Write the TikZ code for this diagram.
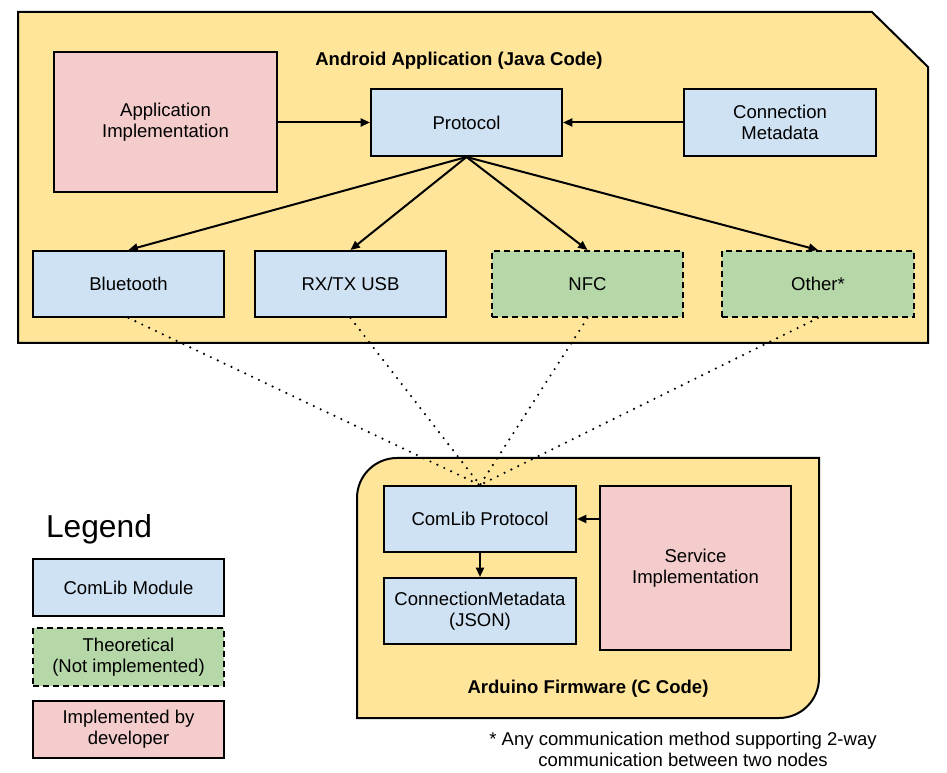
\documentclass[tikz,border=0pt]{standalone}
\usepackage{fontspec}
\setmainfont{Liberation Sans}
\usetikzlibrary{arrows.meta}
\definecolor{bgyellow}{HTML}{FFE599}
\definecolor{modblue}{HTML}{CFE2F3}
\definecolor{theogreen}{HTML}{B6D7A8}
\definecolor{devpink}{HTML}{F4CCCC}
\tikzset{
  box/.style={draw=black, line width=1.5pt, inner sep=0pt, align=center,
    font=\fontsize{13.9}{15.75}\selectfont},
  modbox/.style={box, fill=modblue},
  theobox/.style={box, fill=theogreen, dash pattern=on 4.5pt off 3pt},
  devbox/.style={box, fill=devpink},
  arr/.style={line width=1.5pt, -{Triangle[length=7pt,width=6pt]}},
  link/.style={line width=1.8pt, line cap=round, dash pattern=on 0pt off 5.7pt},
  area/.style={draw=black, line width=1.5pt, fill=bgyellow},
  title/.style={font=\fontsize{13.9}{16}\selectfont\bfseries},
  plain/.style={font=\fontsize{13.9}{15.75}\selectfont, align=center, inner sep=0pt}
}
\begin{document}
\begin{tikzpicture}[x=0.75pt, y=-0.75pt]
\useasboundingbox (0,0) rectangle (947,773);
% background areas
\draw[area] (18,12) -- (872,12) -- (928,67) -- (928,343) -- (18,343) -- cycle;
\draw[area] (357,718) -- (357,498) arc[start angle=180, end angle=90, radius=30pt]
  -- (819,458) -- (819,678) arc[start angle=0, end angle=-90, radius=30pt] -- cycle;
% titles
\node[title] (androidt) at (459,60.5) {Android Application (Java Code)};
\node[title] (arduinot) at (588,688.5) {Arduino Firmware (C Code)};
% android nodes
\node[devbox, minimum width=223*0.75pt, minimum height=140*0.75pt] (appimpl) at (165.5,122) {Application\\Implementation};
\node[modbox, minimum width=191*0.75pt, minimum height=67*0.75pt] (proto) at (466.5,122.5) {Protocol};
\node[modbox, minimum width=192*0.75pt, minimum height=67*0.75pt] (connmeta) at (780,122.5) {Connection\\Metadata};
\node[modbox, minimum width=191*0.75pt, minimum height=66*0.75pt] (bt) at (128.5,284) {Bluetooth};
\node[modbox, minimum width=191*0.75pt, minimum height=66*0.75pt] (usb) at (350.5,284) {RX/TX USB};
\node[theobox, minimum width=191*0.75pt, minimum height=66*0.75pt] (nfc) at (587.5,284) {NFC};
\node[theobox, minimum width=192*0.75pt, minimum height=66*0.75pt] (other) at (818,284) {Other*};
% arduino nodes
\node[modbox, minimum width=192*0.75pt, minimum height=66*0.75pt] (comlib) at (480,519) {ComLib Protocol};
\node[modbox, minimum width=192*0.75pt, minimum height=66*0.75pt] (cmjson) at (480,611) {ConnectionMetadata\\(JSON)};
\node[devbox, minimum width=191*0.75pt, minimum height=164*0.75pt] (service) at (695.5,568) {Service\\Implementation};
% legend
\node[font=\fontsize{23.8}{26}\selectfont, inner sep=0pt] (legend) at (99,529) {Legend};
\node[modbox, minimum width=191*0.75pt, minimum height=57*0.75pt] (leg1) at (128.5,587.5) {ComLib Module};
\node[theobox, minimum width=191*0.75pt, minimum height=58*0.75pt] (leg2) at (128.5,657) {Theoretical\\(Not implemented)};
\node[devbox, minimum width=191*0.75pt, minimum height=57*0.75pt] (leg3) at (128.5,729.5) {Implemented by\\developer};
% footnote
\node[plain] (foot) at (683,749.5) {* Any communication method supporting 2-way\\communication between two nodes};
% arrows
\draw[arr] (appimpl.east |- proto) -- (proto.west);
\draw[arr] (connmeta.west) -- (proto.east);
\draw[arr] (proto.south) -- (bt.north);
\draw[arr] (proto.south) -- (usb.north);
\draw[arr] (proto.south) -- (nfc.north);
\draw[arr] (proto.south) -- (other.north);
\draw[arr] (service.west |- comlib) -- (comlib.east);
\draw[arr] (comlib.south) -- (cmjson.north);
% dotted links
\draw[link] (bt.south) -- (comlib.north);
\draw[link] (usb.south) -- (comlib.north);
\draw[link] (nfc.south) -- (comlib.north);
\draw[link] (other.south) -- (comlib.north);
\end{tikzpicture}
\end{document}
